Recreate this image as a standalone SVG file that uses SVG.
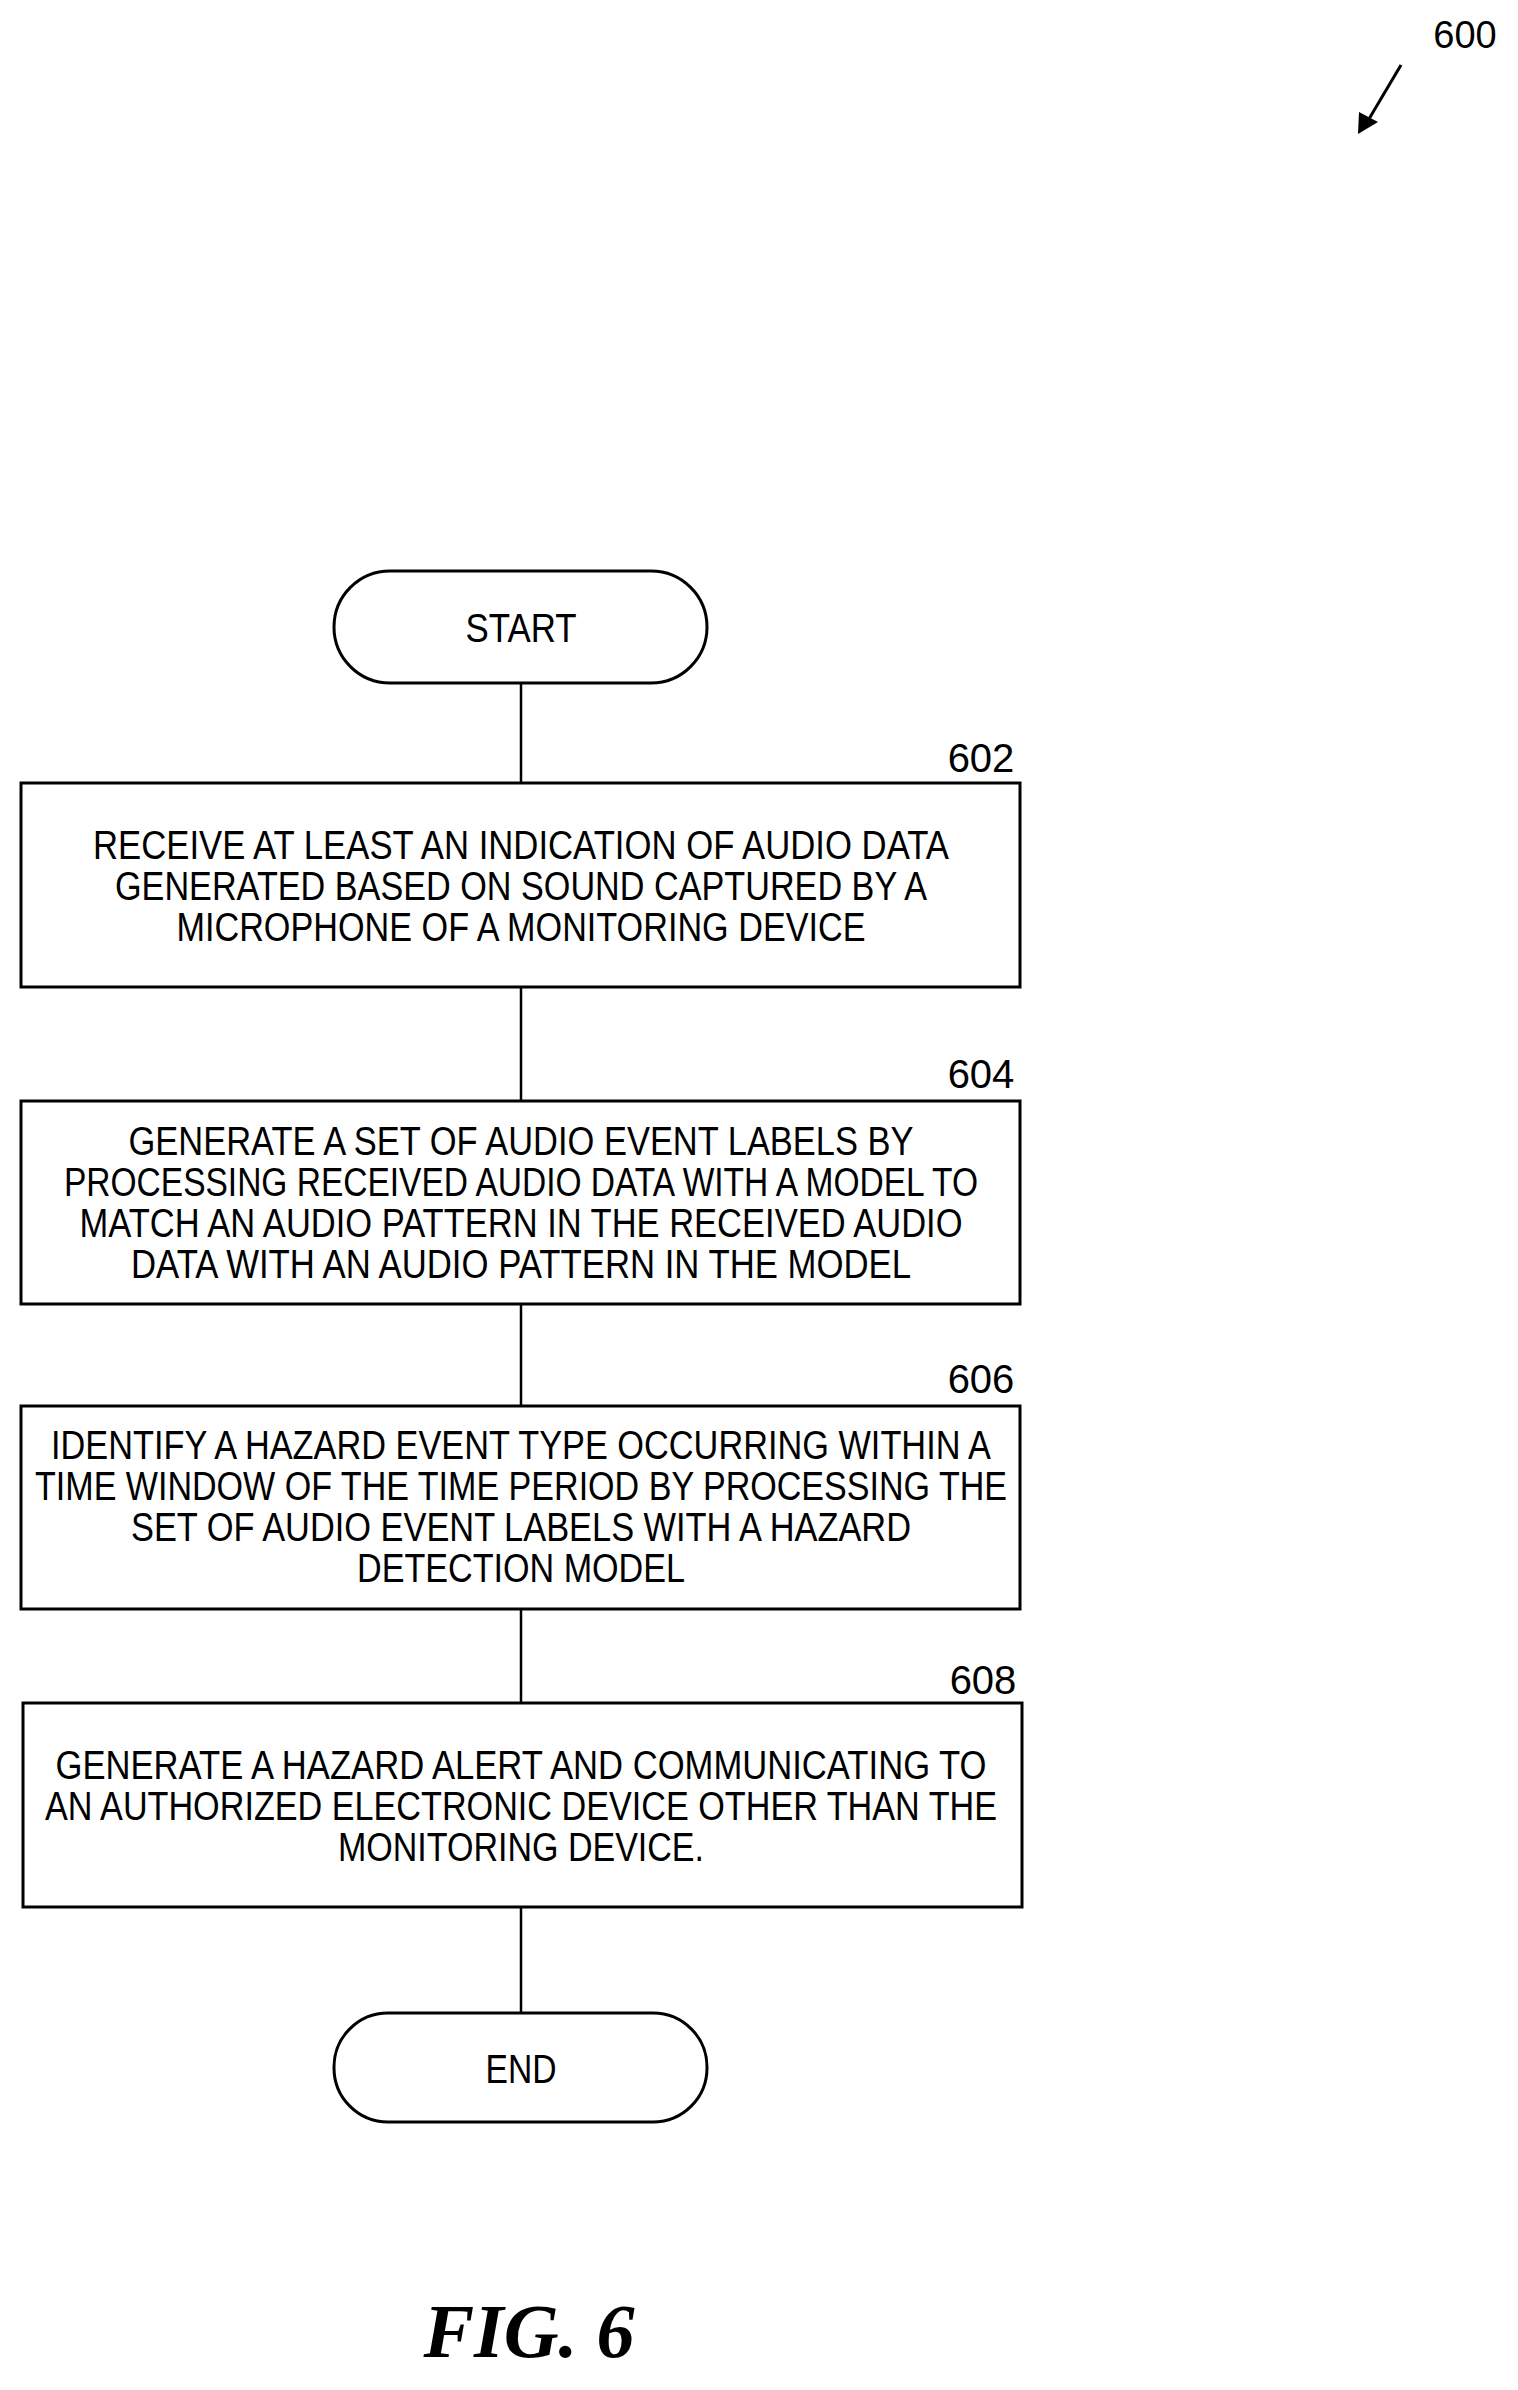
<svg xmlns="http://www.w3.org/2000/svg" width="1518" height="2390" viewBox="0 0 1518 2390">
<style>
.b{fill:#fff;stroke:#000;stroke-width:3}
.t{font-family:"Liberation Sans",Arial,sans-serif;font-size:40px;text-anchor:middle;fill:#000}
.c{stroke:#000;stroke-width:2.5;fill:none}
</style>
<defs><marker id="ah" markerWidth="10" markerHeight="10" refX="8" refY="5" orient="auto" markerUnits="userSpaceOnUse" viewBox="0 0 10 10"><path d="M0,0L10,5L0,10z"/></marker></defs>
<rect width="1518" height="2390" fill="#fff"/>
<g id="ref600"><text class="t" x="1465" y="48" style="font-size:38px">600</text>
<line x1="1401" y1="65" x2="1366" y2="124" stroke="#000" stroke-width="3"/><path d="M1358,134 L1359,112 L1378,122z"/></g>
<g id="connectors">
<line class="c" x1="521" y1="683" x2="521" y2="783"/>
<line class="c" x1="521" y1="987" x2="521" y2="1101"/>
<line class="c" x1="521" y1="1304" x2="521" y2="1406"/>
<line class="c" x1="521" y1="1609" x2="521" y2="1703"/>
<line class="c" x1="521" y1="1907" x2="521" y2="2013"/>
</g>
<g id="start"><rect class="b" x="334" y="571" width="373" height="112" rx="56"/>
<text class="t" x="521" y="642" textLength="111" lengthAdjust="spacingAndGlyphs">START</text></g>
<g id="n602"><rect class="b" x="21" y="783" width="999" height="204"/>
<text class="t" x="981" y="772">602</text>
<text class="t" x="521" y="859" textLength="856" lengthAdjust="spacingAndGlyphs">RECEIVE AT LEAST AN INDICATION OF AUDIO DATA</text>
<text class="t" x="521" y="900" textLength="812" lengthAdjust="spacingAndGlyphs">GENERATED BASED ON SOUND CAPTURED BY A</text>
<text class="t" x="521" y="941" textLength="689" lengthAdjust="spacingAndGlyphs">MICROPHONE OF A MONITORING DEVICE</text></g>
<g id="n604"><rect class="b" x="21" y="1101" width="999" height="203"/>
<text class="t" x="981" y="1088">604</text>
<text class="t" x="521" y="1155" textLength="785" lengthAdjust="spacingAndGlyphs">GENERATE A SET OF AUDIO EVENT LABELS BY</text>
<text class="t" x="521" y="1196" textLength="914" lengthAdjust="spacingAndGlyphs">PROCESSING RECEIVED AUDIO DATA WITH A MODEL TO</text>
<text class="t" x="521" y="1237" textLength="883" lengthAdjust="spacingAndGlyphs">MATCH AN AUDIO PATTERN IN THE RECEIVED AUDIO</text>
<text class="t" x="521" y="1278" textLength="780" lengthAdjust="spacingAndGlyphs">DATA WITH AN AUDIO PATTERN IN THE MODEL</text></g>
<g id="n606"><rect class="b" x="21" y="1406" width="999" height="203"/>
<text class="t" x="981" y="1393">606</text>
<text class="t" x="521" y="1459" textLength="940" lengthAdjust="spacingAndGlyphs">IDENTIFY A HAZARD EVENT TYPE OCCURRING WITHIN A</text>
<text class="t" x="521" y="1500" textLength="972" lengthAdjust="spacingAndGlyphs">TIME WINDOW OF THE TIME PERIOD BY PROCESSING THE</text>
<text class="t" x="521" y="1541" textLength="780" lengthAdjust="spacingAndGlyphs">SET OF AUDIO EVENT LABELS WITH A HAZARD</text>
<text class="t" x="521" y="1582" textLength="328" lengthAdjust="spacingAndGlyphs">DETECTION MODEL</text></g>
<g id="n608"><rect class="b" x="23" y="1703" width="999" height="204"/>
<text class="t" x="983" y="1694">608</text>
<text class="t" x="521" y="1779" textLength="931" lengthAdjust="spacingAndGlyphs">GENERATE A HAZARD ALERT AND COMMUNICATING TO</text>
<text class="t" x="521" y="1820" textLength="952" lengthAdjust="spacingAndGlyphs">AN AUTHORIZED ELECTRONIC DEVICE OTHER THAN THE</text>
<text class="t" x="521" y="1861" textLength="366" lengthAdjust="spacingAndGlyphs">MONITORING DEVICE.</text></g>
<g id="end"><rect class="b" x="334" y="2013" width="373" height="109" rx="54"/>
<text class="t" x="521" y="2083" textLength="71" lengthAdjust="spacingAndGlyphs">END</text></g>
<text x="529" y="2357" style="font-family:'Liberation Serif','Times New Roman',serif;font-size:76px;font-weight:bold;font-style:italic;text-anchor:middle">FIG. 6</text>
</svg>
